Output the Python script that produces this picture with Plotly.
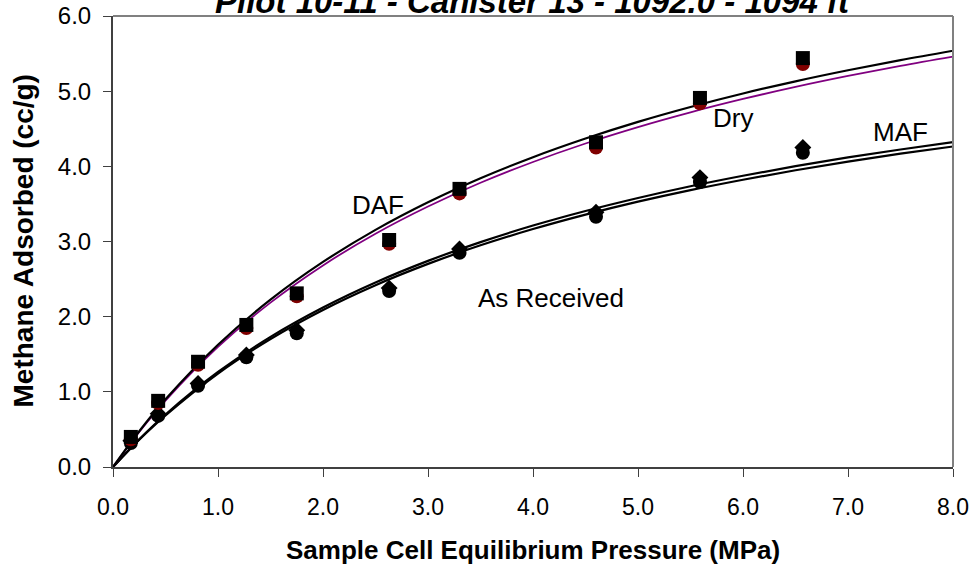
import plotly.graph_objects as go

# Measured points
pressure = [0.17, 0.43, 0.81, 1.27, 1.75, 2.63, 3.30, 4.60, 5.59, 6.57]
daf_pts = [0.40, 0.88, 1.40, 1.89, 2.31, 3.02, 3.70, 4.32, 4.91, 5.44]
dry_pts = [0.37, 0.85, 1.36, 1.85, 2.27, 2.97, 3.64, 4.25, 4.84, 5.36]
maf_pts = [0.35, 0.71, 1.11, 1.49, 1.82, 2.38, 2.90, 3.39, 3.85, 4.25]
ar_pts = [0.32, 0.68, 1.08, 1.46, 1.78, 2.34, 2.85, 3.33, 3.79, 4.18]

# Fitted curves
curve_x = [0, 0.25, 0.5, 1, 1.5, 2, 2.5, 3, 3.5, 4, 4.5, 5, 5.5, 6, 6.5, 7, 7.5, 8]
daf_curve = [0, 0.476, 0.901, 1.627, 2.226, 2.728, 3.155, 3.522, 3.842, 4.122,
             4.370, 4.592, 4.790, 4.969, 5.131, 5.278, 5.413, 5.538]
dry_curve = [0, 0.466, 0.883, 1.598, 2.187, 2.682, 3.103, 3.465, 3.781, 4.058,
             4.304, 4.523, 4.719, 4.896, 5.057, 5.203, 5.337, 5.460]
maf_curve = [0, 0.369, 0.699, 1.264, 1.731, 2.122, 2.455, 2.742, 2.992, 3.212,
             3.406, 3.579, 3.735, 3.875, 4.002, 4.118, 4.224, 4.321]
ar_curve = [0, 0.363, 0.687, 1.244, 1.703, 2.090, 2.419, 2.702, 2.949, 3.166,
            3.358, 3.530, 3.684, 3.822, 3.948, 4.063, 4.168, 4.264]

x_ticks = [0, 1, 2, 3, 4, 5, 6, 7, 8]
y_ticks = [0, 1, 2, 3, 4, 5, 6]

labels = ["DAF", "Dry", "MAF", "As Received"]
label_x = [2.52, 5.90, 7.50, 4.17]
label_y = [3.49, 4.64, 4.46, 2.25]

title = "Pilot 10-11 - Canister 13 - 1092.0 - 1094 ft"
x_title = "Sample Cell Equilibrium Pressure (MPa)"
y_title = "Methane Adsorbed (cc/g)"

FONT = "Liberation Sans, Arial, sans-serif"

fig = go.Figure()

# curves
fig.add_trace(go.Scatter(x=curve_x, y=ar_curve, mode="lines", line=dict(color="black", width=2.2, shape="spline")))
fig.add_trace(go.Scatter(x=curve_x, y=maf_curve, mode="lines", line=dict(color="black", width=2.2, shape="spline")))
fig.add_trace(go.Scatter(x=curve_x, y=dry_curve, mode="lines", line=dict(color="#800080", width=1.8, shape="spline")))
fig.add_trace(go.Scatter(x=curve_x, y=daf_curve, mode="lines", line=dict(color="black", width=2.2, shape="spline")))

# markers
fig.add_trace(go.Scatter(x=pressure, y=maf_pts, mode="markers", marker=dict(symbol="diamond", size=13, color="black")))
fig.add_trace(go.Scatter(x=pressure, y=ar_pts, mode="markers", marker=dict(symbol="circle", size=14, color="black")))
fig.add_trace(go.Scatter(x=pressure, y=dry_pts, mode="markers", marker=dict(symbol="circle", size=14, color="#800000")))
fig.add_trace(go.Scatter(x=pressure, y=daf_pts, mode="markers", marker=dict(symbol="square", size=14, color="black")))

for t, lx, ly in zip(labels, label_x, label_y):
    fig.add_annotation(x=lx, y=ly, text=t, showarrow=False, font=dict(family=FONT, size=26, color="black"))

fig.add_annotation(xref="paper", yref="paper", x=0.5, y=1, yanchor="bottom", yshift=-6,
                   text="<b><i>" + title + "</i></b>", showarrow=False,
                   font=dict(family=FONT, size=33, color="black"))

# axis titles
fig.add_annotation(xref="paper", yref="paper", x=0.5, y=0, yanchor="middle", yshift=-83,
                   text="<b>" + x_title + "</b>", showarrow=False,
                   font=dict(family=FONT, size=26, color="black"))
fig.add_annotation(xref="paper", yref="paper", x=0, y=0.5, xanchor="center", yanchor="middle",
                   xshift=-90, textangle=-90,
                   text="<b>" + y_title + "</b>", showarrow=False,
                   font=dict(family=FONT, size=28, color="black"))

# top and right gray border
fig.add_shape(type="line", xref="paper", yref="paper", x0=0, x1=1, y0=1, y1=1, line=dict(color="#808080", width=2))
fig.add_shape(type="line", xref="paper", yref="paper", x0=1, x1=1, y0=0, y1=1, line=dict(color="#808080", width=2))

fig.update_layout(
    width=976, height=572,
    margin=dict(l=113, r=23, t=16, b=105, autoexpand=False),
    paper_bgcolor="white", plot_bgcolor="white",
    showlegend=False,
    font=dict(family=FONT, color="black"),
)
fig.update_xaxes(
    range=[0, 8], tickvals=x_ticks, tickformat=".1f", automargin=False,
    showgrid=False, zeroline=False, showline=True, linecolor="#404040", linewidth=2,
    ticks="outside", ticklen=8, tickcolor="#404040", tickwidth=1, ticklabelstandoff=10,
    tickfont=dict(family=FONT, size=23, color="black"),
)
fig.update_yaxes(
    range=[0, 6], tickvals=y_ticks, tickformat=".1f", automargin=False,
    showgrid=False, zeroline=False, showline=True, linecolor="#404040", linewidth=2,
    ticks="outside", ticklen=8, tickcolor="#404040", tickwidth=1, ticklabelstandoff=7,
    tickfont=dict(family=FONT, size=24, color="black"),
)

fig.write_html("out.html")
